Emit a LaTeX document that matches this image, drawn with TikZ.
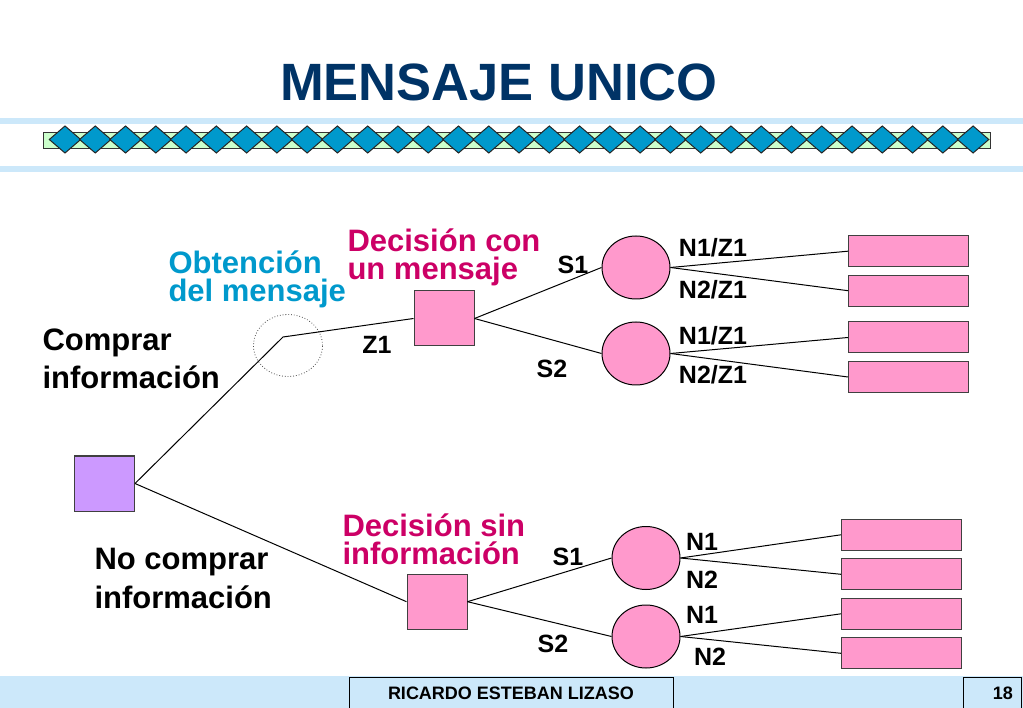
\documentclass[tikz,border=0pt]{standalone}
\usepackage{fontspec}
\setmainfont{Liberation Sans}
\usetikzlibrary{positioning, shapes.geometric}

\definecolor{titleblue}{HTML}{003366}
\definecolor{bandblue}{HTML}{CCE8FA}
\definecolor{stripgreen}{HTML}{CCFFCC}
\definecolor{gemblue}{HTML}{0099CC}
\definecolor{nodepink}{HTML}{FF99CC}
\definecolor{nodepurple}{HTML}{CC99FF}
\definecolor{textcyan}{HTML}{0099CC}
\definecolor{textmagenta}{HTML}{CC0066}

\begin{document}
\begin{tikzpicture}[
    x=1pt, y=-1pt,
    node distance=39.5pt,
    on grid,
    line width=1pt,
    decision/.style={draw=black!75, fill=nodepink, minimum width=60pt, minimum height=55pt, inner sep=0pt},
    chance/.style={ellipse, draw, fill=nodepink, minimum width=68pt, minimum height=63pt, inner sep=0pt},
    payoff/.style={draw=black!75, fill=nodepink, minimum width=120pt, minimum height=31pt, inner sep=0pt},
    branch/.style={font=\fontsize{25}{25}\selectfont\bfseries, inner sep=0pt},
    caption/.style={font=\fontsize{31}{#1}\selectfont\bfseries, align=left, anchor=west, inner sep=0pt},
    caption/.default=28,
    footbox/.style={draw, fill=bandblue, minimum height=33pt, inner sep=0pt, font=\fontsize{18}{18}\selectfont\bfseries},
]
    \useasboundingbox (0,0) rectangle (1023,708);

    % header
    \node[font=\fontsize{52.5}{52.5}\selectfont\bfseries, text=titleblue] (title) at (499,82) {MENSAJE UNICO};
    \fill[bandblue] (0,118) rectangle (1023,124);
    \fill[bandblue] (0,166) rectangle (1023,172);
    \filldraw[fill=stripgreen, draw=black!80] (43,133) rectangle (990,149);
    \foreach \i in {0,...,30}
        \filldraw[fill=gemblue, draw=black!85] ({65+30.27*\i},126) -- ++(15.7,13.5) -- ++(-15.7,13.5) -- ++(-15.7,-13.5) -- cycle;

    % tree
    \node[decision, fill=nodepurple] (root) at (104.5,483.5) {};
    \node[ellipse, draw=black!70, dotted, line width=0.8pt, minimum width=69pt, minimum height=62pt] (obt) at (288,345.5) {};
    \coordinate (kink) at (283,337);

    \node[decision] (dcon) at (444,318.5) {};
    \node[decision] (dsin) at (437,601.7) {};

    \node[chance] (c1) at (636,267.5) {};
    \node[chance] (c2) at (636,353.5) {};
    \node[chance] (c3) at (646,558) {};
    \node[chance] (c4) at (646,636.5) {};

    \node[payoff]              (p11) at (908.5,251.2) {};
    \node[payoff, below=of p11] (p12) {};
    \node[payoff]              (p21) at (908.5,337.5) {};
    \node[payoff, below=of p21] (p22) {};
    \node[payoff]              (p31) at (901.5,534.8) {};
    \node[payoff, below=of p31] (p32) {};
    \node[payoff, below=of p32] (p41) {};
    \node[payoff, below=of p41] (p42) {};

    \draw (root.east) -- (kink) -- (dcon.west);
    \path
        (root.east) edge (dsin.west)
        (dcon.east) edge (c1.west)
        (dcon.east) edge (c2.west)
        (dsin.east) edge (c3.west)
        (dsin.east) edge (c4.west)
        (c1.east) edge (p11.west)
        (c1.east) edge (p12.west)
        (c2.east) edge (p21.west)
        (c2.east) edge (p22.west)
        (c3.east) edge (p31.west)
        (c3.east) edge (p32.west)
        (c4.east) edge (p41.west)
        (c4.east) edge (p42.west)
    ;

    % texts
    \node[caption=38] (buy) at (42,359) {Comprar\\información};
    \node[caption=39] (nobuy) at (94,578) {No comprar\\información};
    \node[caption, text=textcyan] (obttext) at (168,279.5) {Obtención\\del mensaje};
    \node[caption, text=textmagenta] (dcontext) at (347,257) {Decisión con\\un mensaje};
    \node[caption, text=textmagenta] (dsintext) at (342,539) {Decisión sin\\información};

    \node[branch] (z1) at (377,345) {Z1};
    \node[branch] (s11) at (573,265) {S1};
    \node[branch] (s12) at (552,369) {S2};
    \node[branch] (n11) at (713,248) {N1/Z1};
    \node[branch] (n12) at (713,290) {N2/Z1};
    \node[branch] (n21) at (713,336) {N1/Z1};
    \node[branch] (n22) at (713,375) {N2/Z1};
    \node[branch] (s21) at (568,557) {S1};
    \node[branch] (s22) at (553,644) {S2};
    \node[branch] (n31) at (702,542) {N1};
    \node[branch] (n32) at (702,580) {N2};
    \node[branch] (n41) at (702,615) {N1};
    \node[branch] (n42) at (710,657) {N2};

    % footer
    \fill[bandblue] (0,676) rectangle (1023,708);
    \node[footbox, minimum width=324pt] (author) at (511,693.5) {RICARDO ESTEBAN LIZASO};
    \node[footbox, minimum width=58pt, text width=42pt, align=right] (page) at (992,693.5) {18};
\end{tikzpicture}
\end{document}
